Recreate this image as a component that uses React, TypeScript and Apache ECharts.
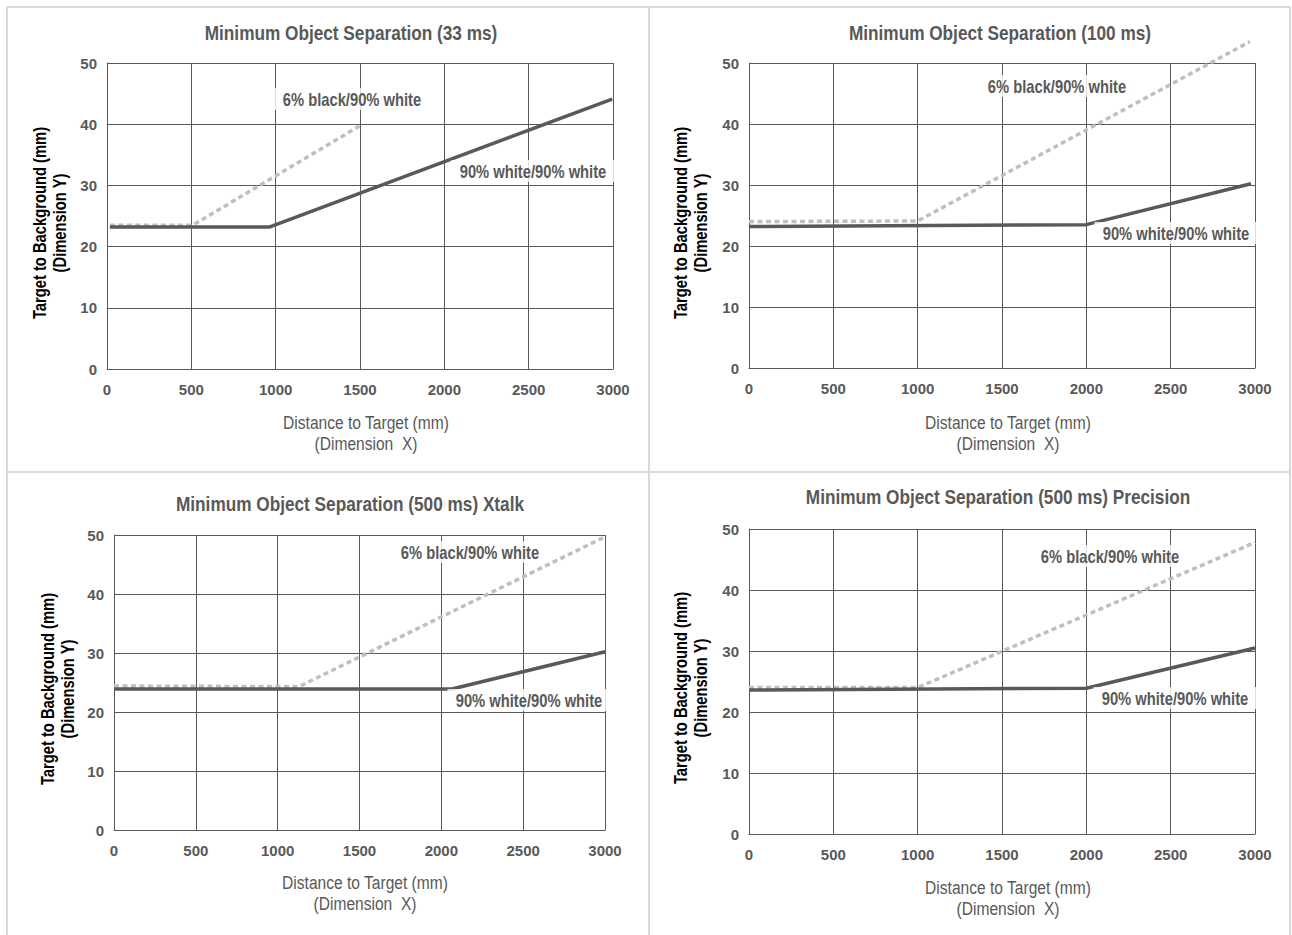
import React, { useEffect, useRef } from "react";
import * as echarts from "echarts";

const FONT = "'Liberation Sans', Arial, sans-serif";
const NARROW = 0.82;

const titles = [
  "Minimum Object Separation (33 ms)",
  "Minimum Object Separation (100 ms)",
  "Minimum Object Separation (500 ms) Xtalk",
  "Minimum Object Separation (500 ms) Precision",
];
const xAxisMin = 0;
const xAxisMax = 3000;
const xAxisStep = 500;
const yAxisMin = 0;
const yAxisMax = 50;
const yAxisStep = 10;
const xName = "Distance to Target (mm)\n(Dimension  X)";
const yName = "Target to Background (mm)\n(Dimension Y)";
const blackLabel = "6% black/90% white";
const whiteLabel = "90% white/90% white";

// [distance, separation]
const p1White = [[17, 23.2], [962, 23.2], [2995, 44.1]];
const p1Black = [[17, 23.5], [508, 23.5], [1497, 39.7]];
const p2White = [[0, 23.2], [2000, 23.5], [2976, 30.2]];
const p2Black = [[0, 24.0], [1000, 24.1], [2970, 53.5]];
const p3White = [[0, 23.9], [2065, 23.9], [3000, 30.2]];
const p3Black = [[0, 24.4], [1130, 24.3], [3000, 49.7]];
const p4White = [[0, 23.6], [2000, 23.9], [3000, 30.5]];
const p4Black = [[0, 24.0], [1000, 24.0], [3000, 47.8]];

const whiteSeries = [p1White, p2White, p3White, p4White];
const blackSeries = [p1Black, p2Black, p3Black, p4Black];

const grids = [
  { left: 107, top: 63, width: 506, height: 306 },
  { left: 749, top: 63, width: 506, height: 305 },
  { left: 114, top: 535, width: 491, height: 295 },
  { left: 749, top: 529, width: 506, height: 305 },
];
const titlePos = [[351, 33], [1000, 33], [350, 504], [998, 497]];
const yNamePos = [[49, 223], [690, 223], [57, 689], [690, 688]];
const xNamePos = [[366, 433], [1008, 433], [365, 893], [1008, 898]];
const blackLabelPos = [[352, 99], [1057, 86], [470, 552], [1110, 556]];
const whiteLabelPos = [[533, 171], [1176, 233], [529, 700], [1175, 698]];

const TEXT = "#595959";
const GRIDLINE = "#595959";

export default function App() {
  const ref = useRef<HTMLDivElement>(null);
  useEffect(() => {
    if (!ref.current) return;
    const chart = echarts.init(ref.current, null, { renderer: "svg" });
    const xAxes = grids.map((_, i) => ({
      type: "value",
      gridIndex: i,
      min: xAxisMin,
      max: xAxisMax,
      interval: xAxisStep,
      axisLine: { show: true, lineStyle: { color: GRIDLINE, width: 1 } },
      axisTick: { show: false },
      splitLine: { show: true, lineStyle: { color: GRIDLINE, width: 1 } },
      axisLabel: {
        color: TEXT, fontFamily: FONT, fontWeight: "bold", fontSize: 15, margin: 13,
        formatter: (v: number) => String(v),
      },
    }));
    const yAxes = grids.map((_, i) => ({
      type: "value",
      gridIndex: i,
      min: yAxisMin,
      max: yAxisMax,
      interval: yAxisStep,
      axisLine: { show: true, lineStyle: { color: GRIDLINE, width: 1 } },
      axisTick: { show: false },
      splitLine: { show: true, lineStyle: { color: GRIDLINE, width: 1 } },
      axisLabel: {
        color: TEXT, fontFamily: FONT, fontWeight: "bold", fontSize: 15, margin: 10,
        formatter: (v: number) => String(v),
      },
    }));
    const series: any[] = [];
    grids.forEach((_, i) => {
      series.push({
        type: "line",
        name: blackLabel,
        xAxisIndex: i,
        yAxisIndex: i,
        data: blackSeries[i],
        showSymbol: false,
        clip: false,
        lineStyle: { color: "#bfbfbf", width: 3.5, type: [5, 3.5] },
      });
      series.push({
        type: "line",
        name: whiteLabel,
        xAxisIndex: i,
        yAxisIndex: i,
        data: whiteSeries[i],
        showSymbol: false,
        clip: false,
        lineStyle: { color: "#595959", width: 3.5 },
      });
    });
    const graphics: any[] = [];
    const border = { stroke: "#d9d9d9", lineWidth: 2 };
    graphics.push({ type: "line", shape: { x1: 7, y1: 7, x2: 7, y2: 935 }, style: border, silent: true });
    graphics.push({ type: "line", shape: { x1: 7, y1: 7, x2: 1290, y2: 7 }, style: border, silent: true });
    graphics.push({ type: "line", shape: { x1: 1290, y1: 7, x2: 1290, y2: 935 }, style: border, silent: true });
    graphics.push({ type: "line", shape: { x1: 649, y1: 7, x2: 649, y2: 935 }, style: border, silent: true });
    graphics.push({ type: "line", shape: { x1: 7, y1: 472, x2: 1290, y2: 472 }, style: border, silent: true });
    grids.forEach((_, i) => {
      graphics.push({
        type: "text",
        x: titlePos[i][0],
        y: titlePos[i][1],
        scaleX: NARROW,
        style: { text: titles[i], fill: TEXT, font: `bold 21px ${FONT}`, align: "center", verticalAlign: "middle" },
      });
      graphics.push({
        type: "text",
        x: yNamePos[i][0],
        y: yNamePos[i][1],
        rotation: Math.PI / 2,
        scaleX: NARROW,
        style: { text: yName, fill: "#000000", font: `bold 18px ${FONT}`, align: "center", verticalAlign: "middle", lineHeight: 20 },
      });
      graphics.push({
        type: "text",
        x: xNamePos[i][0],
        y: xNamePos[i][1],
        scaleX: NARROW,
        style: { text: xName, fill: TEXT, font: `19px ${FONT}`, align: "center", verticalAlign: "middle", lineHeight: 21 },
      });
      graphics.push({
        type: "text",
        x: blackLabelPos[i][0],
        y: blackLabelPos[i][1],
        z: 100,
        scaleX: NARROW,
        style: {
          text: blackLabel, fill: TEXT, font: `bold 18px ${FONT}`, align: "center", verticalAlign: "middle",
          backgroundColor: "rgba(255,255,255,0.8)", padding: [2, 10],
        },
      });
      graphics.push({
        type: "text",
        x: whiteLabelPos[i][0],
        y: whiteLabelPos[i][1],
        z: 100,
        scaleX: NARROW,
        style: {
          text: whiteLabel, fill: TEXT, font: `bold 18px ${FONT}`, align: "center", verticalAlign: "middle",
          backgroundColor: "rgba(255,255,255,0.8)", padding: [2, 10],
        },
      });
    });
    chart.setOption({
      animation: false,
      backgroundColor: "#ffffff",
      grid: grids,
      xAxis: xAxes,
      yAxis: yAxes,
      series,
      graphic: graphics,
    });
    return () => chart.dispose();
  }, []);
  return (
    <div
      ref={ref}
      style={{ position: "fixed", left: 0, top: 0, width: 1292, height: 935, background: "#fff" }}
    />
  );
}
